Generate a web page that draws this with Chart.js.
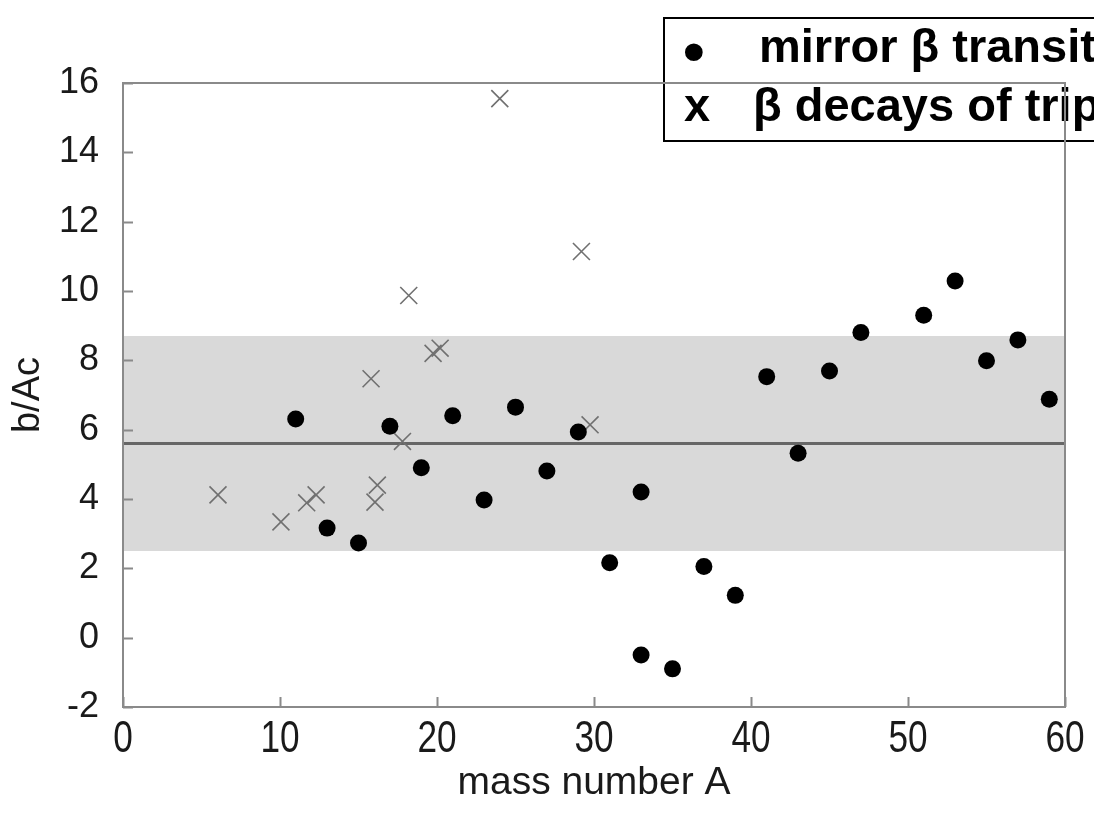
<!DOCTYPE html>
<html>
<head>
<meta charset="utf-8">
<script src="https://cdn.jsdelivr.net/npm/chart.js@4/dist/chart.umd.min.js"></script>
<style>
  html, body { margin: 0; padding: 0; background: #fff; }
  #wrap { width: 1094px; height: 826px; position: relative; }
</style>
</head>
<body>
<div id="wrap"><canvas id="myChart"></canvas></div>
<script>
// mirror beta transitions (filled dots)
const mirrorA = [11, 13, 15, 17, 19, 21, 23, 25, 27, 29, 31, 33, 33, 35, 37, 39, 41, 43, 45, 47, 51, 53, 55, 57, 59];
const mirrorB = [6.31, 3.16, 2.73, 6.10, 4.90, 6.40, 3.97, 6.65, 4.81, 5.93, 2.16, 4.20, -0.50, -0.90, 2.05, 1.22, 7.53, 5.32, 7.69, 8.80, 9.30, 10.29, 7.99, 8.59, 6.88];

// beta decays of triplets (crosses)
const tripA = [6.05, 10.06, 11.7, 12.3, 15.8, 16.05, 16.2, 17.8, 18.2, 19.75, 20.2, 24.0, 29.2, 29.75];
const tripB = [4.12, 3.34, 3.89, 4.12, 7.47, 3.91, 4.40, 5.66, 9.87, 8.20, 8.35, 15.55, 11.14, 6.14];

// average and band
const bandX = [0, 60];
const meanB = [5.6, 5.6];
const bandLow = [2.5, 2.5];
const bandHigh = [8.7, 8.7];

const xTicks = [0, 10, 20, 30, 40, 50, 60];
const yTicks = [-2, 0, 2, 4, 6, 8, 10, 12, 14, 16];

const legendRows = [
    { mark: "•", text: "mirror β transitions" },
    { mark: "x", text: "β decays of triplets" }
];

const toPts = (xs, ys) => xs.map((x, i) => ({ x: x, y: ys[i] }));

const fontFam = "'Liberation Sans', Arial, Helvetica, sans-serif";

const framePlugin = {
    id: "frame",
    afterDraw(chart) {
        const c = chart.ctx;
        const a = chart.chartArea;
        const xs = chart.scales.x, ys = chart.scales.y;

        // x tick labels: tall and narrow in the original
        c.save();
        c.fillStyle = "#1a1a1a";
        c.font = "44px " + fontFam;
        c.textAlign = "center";
        c.textBaseline = "alphabetic";
        xTicks.forEach(v => {
            const px = xs.getPixelForValue(v);
            c.save();
            c.translate(px, a.bottom + 45);
            c.scale(0.8, 1);
            c.fillText(String(v), 0, 0);
            c.restore();
        });
        c.restore();

        // legend box
        c.save();
        c.fillStyle = "#fff";
        c.fillRect(664, 18, 460, 123);
        c.strokeStyle = "#000";
        c.lineWidth = 2;
        c.strokeRect(664, 18, 460, 123);
        c.fillStyle = "#000";
        c.textBaseline = "alphabetic";
        c.textAlign = "left";
        c.font = "bold 62px " + fontFam;
        c.fillText(legendRows[0].mark, 683, 72);
        c.font = "bold 47px " + fontFam;
        c.fillText(legendRows[0].text, 759, 62);
        c.fillText(legendRows[1].mark, 684, 121);
        c.fillText(legendRows[1].text, 753, 121);
        c.restore();

        // frame + inward ticks
        c.save();
        c.strokeStyle = "#8a8a8a";
        c.lineWidth = 2;
        c.strokeRect(a.left, a.top, a.right - a.left, a.bottom - a.top);
        c.beginPath();
        yTicks.forEach(v => {
            const p = Math.round(ys.getPixelForValue(v)) + 0.5;
            c.moveTo(a.left, p);
            c.lineTo(a.left + 10, p);
        });
        xTicks.forEach(v => {
            const p = Math.round(xs.getPixelForValue(v)) + 0.5;
            c.moveTo(p, a.bottom);
            c.lineTo(p, a.bottom - 10);
        });
        c.stroke();
        c.restore();
    }
};

const ctx = document.getElementById("myChart").getContext("2d");

const myChart = new Chart(ctx, {
    type: "scatter",
    data: {
        datasets: [
            {
                label: "mirror",
                data: toPts(mirrorA, mirrorB),
                pointStyle: "circle",
                pointRadius: 8.5,
                backgroundColor: "#000",
                borderColor: "#000",
                borderWidth: 0,
                order: 0
            },
            {
                label: "triplets",
                data: toPts(tripA, tripB),
                pointStyle: "crossRot",
                pointRadius: 12,
                borderColor: "#707070",
                borderWidth: 1.6,
                order: 1
            },
            {
                type: "line",
                label: "mean",
                data: toPts(bandX, meanB),
                borderColor: "#666",
                borderWidth: 3,
                pointRadius: 0,
                fill: false,
                order: 2
            },
            {
                type: "line",
                label: "low",
                data: toPts(bandX, bandLow),
                borderWidth: 0,
                borderColor: "rgba(0,0,0,0)",
                pointRadius: 0,
                fill: false,
                order: 4
            },
            {
                type: "line",
                label: "high",
                data: toPts(bandX, bandHigh),
                borderWidth: 0,
                borderColor: "rgba(0,0,0,0)",
                backgroundColor: "#d9d9d9",
                pointRadius: 0,
                fill: 3,
                order: 3
            }
        ]
    },
    options: {
        responsive: true,
        maintainAspectRatio: false,
        animation: false,
        layout: { padding: { left: 0, right: 29, top: 83, bottom: 0 } },
        scales: {
            x: {
                type: "linear",
                min: 0,
                max: 60,
                afterFit: (s) => { s.height = 119; },
                afterBuildTicks: (s) => { s.ticks = xTicks.map(v => ({ value: v })); },
                ticks: { display: false },
                grid: { display: false, drawTicks: false },
                border: { display: false },
                title: { display: true, text: "mass number A", color: "#1a1a1a", font: { size: 39, family: fontFam }, padding: { top: 0, bottom: 19 } }
            },
            y: {
                min: -2,
                max: 16,
                afterFit: (s) => { s.width = 123; },
                afterBuildTicks: (s) => { s.ticks = yTicks.map(v => ({ value: v })); },
                ticks: { color: "#1a1a1a", font: { size: 36, family: fontFam }, padding: 24 },
                grid: { display: false, drawTicks: false },
                border: { display: false },
                title: { display: true, text: "b/Ac", color: "#1a1a1a", font: { size: 38, family: fontFam }, padding: { top: 6, bottom: 0 } }
            }
        },
        plugins: {
            legend: { display: false },
            tooltip: { enabled: false }
        }
    },
    plugins: [framePlugin]
});
</script>
</body>
</html>
